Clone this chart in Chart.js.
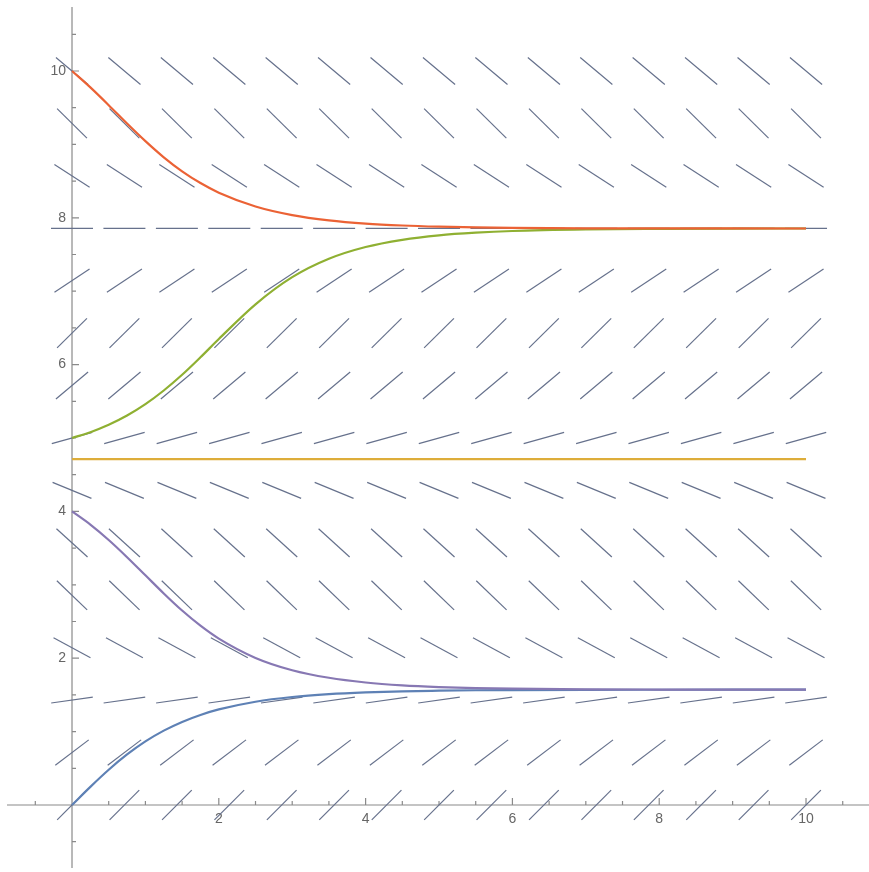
<!DOCTYPE html>
<html>
<head>
<meta charset="utf-8">
<script src="https://cdn.jsdelivr.net/npm/chart.js@4.4.1/dist/chart.umd.min.js"></script>
<style>
html,body{margin:0;padding:0;background:#ffffff;}
#wrap{width:869px;height:872px;position:relative;}
canvas{display:block;}
</style>
</head>
<body>
<div id="wrap"><canvas id="c" width="869" height="872"></canvas></div>
<script>
// ---- slope field grid ----
const gridX = [0, 0.714, 1.429, 2.143, 2.857, 3.571, 4.286, 5.0, 5.714, 6.429, 7.143, 7.857, 8.571, 9.286, 10.0];
const gridY = [0, 0.714, 1.429, 2.143, 2.857, 3.571, 4.286, 5.0, 5.714, 6.429, 7.143, 7.857, 8.571, 9.286, 10.0];
// slope of the segments in each row (bottom to top)
const rowSlopes = [1.0, 0.76, 0.14, -0.54, -0.96, -0.91, -0.41, 0.28, 0.84, 0.99, 0.66, 0.0, -0.65, -0.99, -0.84];

// ---- solution curves ----
const curveX   = [0, 0.25, 0.5, 0.75, 1, 1.25, 1.5, 1.75, 2, 2.5, 3, 3.5, 4, 4.5, 5, 5.5, 6, 7, 8, 9, 10];
const curveFrom0  = [0, 0.247, 0.480, 0.688, 0.866, 1.013, 1.132, 1.227, 1.302, 1.407, 1.471, 1.510, 1.534, 1.549, 1.557, 1.563, 1.566, 1.569, 1.570, 1.5705, 1.571];
const curveFrom4  = [4.0, 3.820, 3.610, 3.376, 3.129, 2.882, 2.649, 2.443, 2.267, 2.004, 1.836, 1.733, 1.669, 1.630, 1.607, 1.593, 1.584, 1.576, 1.573, 1.5714, 1.571];
const curveFlat   = [4.712, 4.712, 4.712, 4.712, 4.712, 4.712, 4.712, 4.712, 4.712, 4.712, 4.712, 4.712, 4.712, 4.712, 4.712, 4.712, 4.712, 4.712, 4.712, 4.712, 4.712];
const curveFrom5  = [5.0, 5.079, 5.180, 5.306, 5.461, 5.647, 5.861, 6.099, 6.348, 6.821, 7.191, 7.442, 7.602, 7.700, 7.761, 7.797, 7.820, 7.841, 7.849, 7.853, 7.854];
const curveFrom10 = [10.0, 9.776, 9.534, 9.284, 9.044, 8.824, 8.633, 8.473, 8.342, 8.154, 8.037, 7.965, 7.921, 7.895, 7.879, 7.869, 7.863, 7.857, 7.855, 7.8544, 7.854];

// ---- axes ----
const xTickValues = [2, 4, 6, 8, 10];
const xTickLabels = ['2', '4', '6', '8', '10'];
const yTickValues = [2, 4, 6, 8, 10];
const yTickLabels = ['2', '4', '6', '8', '10'];
const xAxisExtent = [-0.886, 10.86];
const yAxisExtent = [-0.86, 10.87];
const viewX = [-0.981, 10.858];
const viewY = [-0.913, 10.967];

const fieldColor = '#66718c';
const axisColor = '#8a8a8a';
const labelColor = '#666666';

const fieldPts = [];
const fieldRot = [];
gridY.forEach((yy, j) => {
  gridX.forEach(xx => {
    fieldPts.push({x: xx, y: yy});
    fieldRot.push(-Math.atan(rowSlopes[j]) * 180 / Math.PI);
  });
});

const toPts = arr => curveX.map((xx, i) => ({x: xx, y: arr[i]}));

function curve(arr, color, order) {
  return {
    data: toPts(arr),
    showLine: true,
    borderColor: color,
    borderWidth: 2.2,
    pointRadius: 0,
    fill: false,
    cubicInterpolationMode: 'monotone',
    order: order
  };
}

const axesPlugin = {
  id: 'mathAxes',
  beforeDatasetsDraw(chart) {
    const ctx = chart.ctx;
    const sx = chart.scales.x, sy = chart.scales.y;
    const px0 = sx.getPixelForValue(0), py0 = sy.getPixelForValue(0);
    ctx.save();
    ctx.strokeStyle = axisColor;
    ctx.lineWidth = 1.2;
    ctx.beginPath();
    ctx.moveTo(sx.getPixelForValue(xAxisExtent[0]), py0);
    ctx.lineTo(sx.getPixelForValue(xAxisExtent[1]), py0);
    ctx.moveTo(px0, sy.getPixelForValue(yAxisExtent[1]));
    ctx.lineTo(px0, sy.getPixelForValue(yAxisExtent[0]));
    ctx.stroke();
    // ticks
    ctx.beginPath();
    for (let k = -1; k <= 21; k++) {
      const v = k * 0.5;
      if (v === 0) continue;
      const major = xTickValues.includes(v);
      const len = major ? 7 : 4;
      if (v >= xAxisExtent[0] && v <= xAxisExtent[1]) {
        const p = sx.getPixelForValue(v);
        ctx.moveTo(p, py0);
        ctx.lineTo(p, py0 - len);
      }
      const majorY = yTickValues.includes(v);
      const lenY = majorY ? 7 : 4;
      if (v >= yAxisExtent[0] && v <= yAxisExtent[1]) {
        const q = sy.getPixelForValue(v);
        ctx.moveTo(px0, q);
        ctx.lineTo(px0 + lenY, q);
      }
    }
    ctx.stroke();
    // labels
    ctx.fillStyle = labelColor;
    ctx.font = '14px "Liberation Sans", Arial, sans-serif';
    ctx.textAlign = 'center';
    ctx.textBaseline = 'top';
    xTickValues.forEach((v, i) => {
      ctx.fillText(xTickLabels[i], sx.getPixelForValue(v), py0 + 7);
    });
    ctx.textAlign = 'right';
    ctx.textBaseline = 'middle';
    yTickValues.forEach((v, i) => {
      ctx.fillText(yTickLabels[i], px0 - 6, sy.getPixelForValue(v));
    });
    ctx.restore();
  }
};

new Chart(document.getElementById('c'), {
  type: 'scatter',
  data: {
    datasets: [
      curve(curveFrom4, '#8778B3', 0),
      curve(curveFrom10, '#EB6235', 1),
      curve(curveFrom5, '#8FB032', 2),
      curve(curveFlat, '#DDAD3A', 3),
      curve(curveFrom0, '#5E81B5', 4),
      {
        data: fieldPts,
        showLine: false,
        pointStyle: 'line',
        pointRadius: 21,
        pointRotation: fieldRot,
        pointBorderColor: fieldColor,
        pointBackgroundColor: fieldColor,
        pointBorderWidth: 1.2,
        order: 10
      }
    ]
  },
  options: {
    responsive: false,
    animation: false,
    devicePixelRatio: 1,
    events: [],
    layout: {padding: 0, autoPadding: false},
    plugins: {legend: {display: false}, tooltip: {enabled: false}},
    scales: {
      x: {type: 'linear', min: viewX[0], max: viewX[1], bounds: 'data', display: false},
      y: {type: 'linear', min: viewY[0], max: viewY[1], bounds: 'data', display: false}
    }
  },
  plugins: [axesPlugin]
});
</script>
</body>
</html>
